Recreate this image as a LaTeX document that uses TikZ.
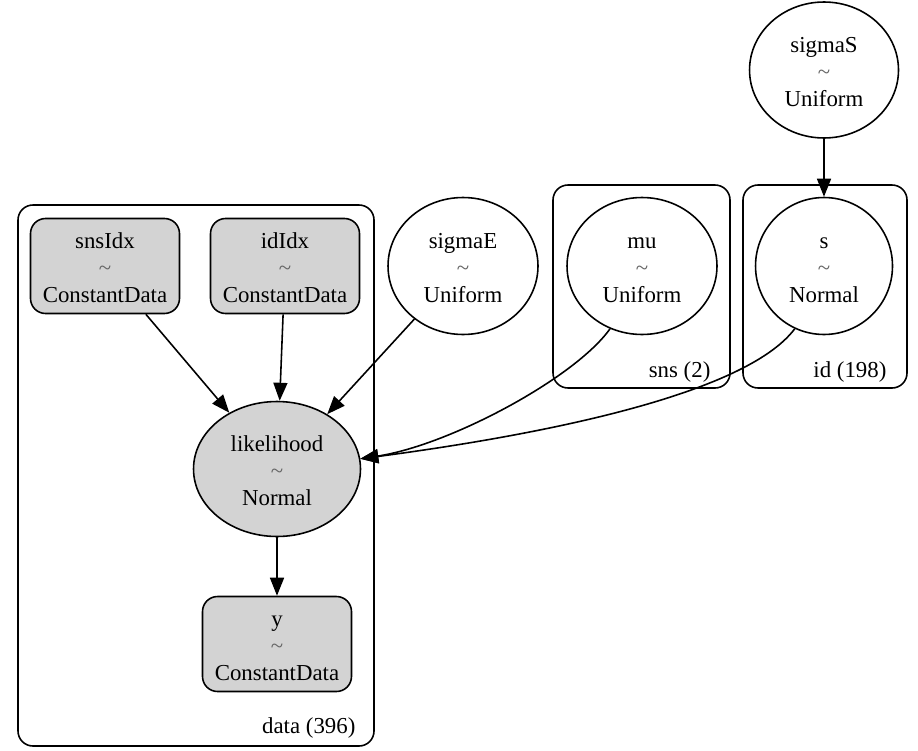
\documentclass[tikz,border=0pt]{standalone}
\usepackage{fontspec}
\setmainfont{Liberation Serif}
\usetikzlibrary{arrows.meta,shapes.geometric}
\definecolor{ObsGray}{HTML}{D3D3D3}
\newcommand{\distlabel}[2]{\rule{0pt}{11pt}#1\\{\color{black!60}\textasciitilde}\\#2}

\begin{document}
\begin{tikzpicture}[x=0.02cm,y=-0.02cm,line width=0.9pt,
  every node/.style={font=\fontsize{13}{15.6}\selectfont},
  rv/.style={draw,ellipse,align=center,inner sep=0pt,minimum width=3cm,minimum height=2.74cm},
  obs/.style={draw,rounded corners=0.3cm,fill=ObsGray,align=center,inner sep=0pt,minimum width=2.98cm,minimum height=1.9cm},
  plate/.style={draw,rounded corners=0.3cm},
  edge/.style={-{Triangle[length=0.36cm,width=0.28cm]}}]
\useasboundingbox (0,0) rectangle (918,750);

% plates
\draw[plate] (18,205) rectangle (374,746);
\draw[plate] (553,185) rectangle (730,388);
\draw[plate] (743,185) rectangle (907,388);
\node[anchor=base east] (dataLbl) at (362,733) {data (396)};
\node[anchor=base east] (snsLbl) at (717,377) {sns (2)};
\node[anchor=base east] (idLbl) at (893,377) {id (198)};

% variables
\node[obs] (snsIdx) at (105,266) {\distlabel{snsIdx}{ConstantData}};
\node[obs] (idIdx) at (285,266) {\distlabel{idIdx}{ConstantData}};
\node[rv] (sigmaE) at (463,266) {\distlabel{sigmaE}{Uniform}};
\node[rv] (mu) at (642,266) {\distlabel{mu}{Uniform}};
\node[rv,minimum width=2.74cm] (s) at (824,266) {\distlabel{s}{Normal}};
\node[rv,minimum width=2.98cm,minimum height=2.72cm] (sigmaS) at (824,70) {\distlabel{sigmaS}{Uniform}};
\node[rv,fill=ObsGray,minimum width=3.34cm,minimum height=2.7cm] (likelihood) at (277,469) {\distlabel{likelihood}{Normal}};
\node[obs] (y) at (277,644) {\distlabel{y}{ConstantData}};

% edges
\draw[edge] (sigmaS) -- (s);
\draw[edge] (snsIdx) -- (likelihood);
\draw[edge] (idIdx) -- (likelihood);
\draw[edge] (sigmaE) -- (likelihood);
\draw[edge] (mu.243) .. controls (575,378) and (450,445) .. (likelihood.7);
\draw[edge] (s.245) .. controls (745,395) and (540,435) .. (likelihood.7);
\draw[edge] (likelihood) -- (y);
\end{tikzpicture}
\end{document}
